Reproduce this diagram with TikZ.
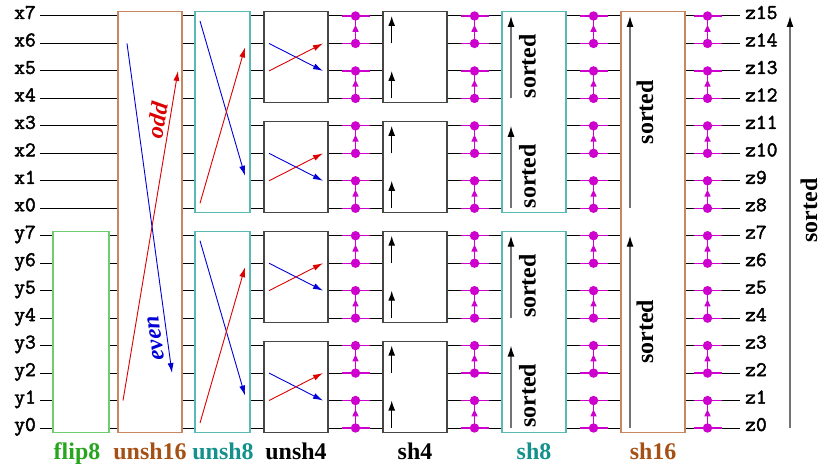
\documentclass[tikz,border=0pt]{standalone}
\usepackage{fontspec}
\setmainfont{Liberation Serif}
\newfontfamily\wirefont[FakeBold=2.2]{Latin Modern Mono}
\usetikzlibrary{arrows.meta,decorations.markings}
\definecolor{mag}{RGB}{205,0,205}
\definecolor{brownb}{RGB}{200,135,95}
\definecolor{brownt}{RGB}{165,80,20}
\definecolor{greenb}{RGB}{110,205,110}
\definecolor{greent}{RGB}{40,165,30}
\definecolor{tealb}{RGB}{90,185,180}
\definecolor{tealt}{RGB}{20,145,140}
\definecolor{redc}{RGB}{220,0,0}
\definecolor{bluec}{RGB}{0,0,215}
\definecolor{boxg}{RGB}{70,70,70}
\begin{document}
\begin{tikzpicture}[x=1bp,y=-1bp,
  declare function={wy(\i)=428-27.4667*\i;},
  wire/.style={line width=1bp,black},
  gbox/.style={draw,fill=white,line width=1.3bp},
  flow/.style={line width=0.9bp,-{Latex[length=10bp,width=6bp]}},
  sortarrow/.style={line width=1.3bp,black!55,-{Latex[length=11bp,width=7bp,color=black]}},
  shortarrow/.style={line width=1.3bp,black,-{Latex[length=10bp,width=7bp]}},
  lbl/.style={font=\fontsize{24}{24}\selectfont\bfseries,inner sep=0pt},
  wlbl/.style={font=\fontsize{21}{21}\selectfont\wirefont,inner sep=0pt,text height=0.6em,text depth=0pt},
  comp/.style={mag,line width=1.5bp,postaction={decorate},
    decoration={markings,mark=at position 0.68 with {\arrow{Triangle[length=7bp,width=6bp]}}}},
]
\useasboundingbox (0,0) rectangle (821,464);

% wires
\foreach \i in {0,...,15} {
  \coordinate (L\i) at (40,{wy(\i)});
  \coordinate (R\i) at (740,{wy(\i)});
  \draw[wire] (L\i) -- (R\i);
}
% wire labels
\foreach \i in {0,...,7} {
  \pgfmathtruncatemacro\j{\i+8}
  \node[wlbl,anchor=east] (ly\i) at ([xshift=-4bp]L\i) {y\i};
  \node[wlbl,anchor=east] (lx\i) at ([xshift=-4bp]L\j) {x\i};
}
\foreach \i in {0,...,15} {
  \node[wlbl,anchor=west] (lz\i) at ([xshift=5bp]R\i) {z\i};
}

% boxes
\draw[gbox,draw=greenb] (53,{wy(7)-4.4}) rectangle (109,{wy(0)+4.4});
\draw[gbox,draw=brownb] (118,{wy(15)-4.4}) rectangle (182,{wy(0)+4.4});
\foreach \t/\b in {15/8,7/0} {
  \draw[gbox,draw=tealb] (195,{wy(\t)-4.4}) rectangle (250,{wy(\b)+4.4});
  \draw[gbox,draw=tealb] (502,{wy(\t)-4.4}) rectangle (566,{wy(\b)+4.4});
}
\foreach \t/\b in {15/12,11/8,7/4,3/0} {
  \draw[gbox,draw=boxg] (264,{wy(\t)-4.4}) rectangle (328,{wy(\b)+4.4});
  \draw[gbox,draw=boxg] (383,{wy(\t)-4.4}) rectangle (447,{wy(\b)+4.4});
}
\draw[gbox,draw=brownb] (621,{wy(15)-4.4}) rectangle (685,{wy(0)+4.4});

% unsh16
\coordinate (a1) at (123,{wy(1)});  \coordinate (a2) at (178,{wy(13)});
\coordinate (b1) at (127,{wy(14)}); \coordinate (b2) at (172,{wy(2)});
\draw[flow,redc] (a1) -- (a2);
\draw[flow,bluec] (b1) -- (b2);
\node[lbl,font=\fontsize{24}{24}\selectfont\bfseries\itshape,text=redc,rotate=80.5] (odd) at (157.5,120) {odd};
\node[lbl,font=\fontsize{24}{24}\selectfont\bfseries\itshape,text=bluec,rotate=97.8] (even) at (155.7,338) {even};

% unsh8
\foreach \s in {0,8} {
  \pgfmathtruncatemacro\ta{\s+7}
  \pgfmathtruncatemacro\tb{\s+1}
  \pgfmathtruncatemacro\tc{\s}
  \pgfmathtruncatemacro\td{\s+6}
  \coordinate (u8b\s s) at (200,{wy(\ta)+5});
  \coordinate (u8b\s e) at (245,{wy(\tb)-5});
  \coordinate (u8r\s s) at (200,{wy(\tc)-5});
  \coordinate (u8r\s e) at (245,{wy(\td)+4});
  \draw[flow,bluec] (u8b\s s) -- (u8b\s e);
  \draw[flow,redc] (u8r\s s) -- (u8r\s e);
}

% unsh4
\foreach \t in {15,11,7,3} {
  \pgfmathtruncatemacro\p{\t-1}
  \pgfmathtruncatemacro\q{\t-2}
  \coordinate (u4p\t) at (269,{wy(\p)});
  \coordinate (u4q\t) at (269,{wy(\q)});
  \coordinate (u4P\t) at (323,{wy(\p)});
  \coordinate (u4Q\t) at (323,{wy(\q)});
  \draw[flow,bluec] (u4p\t) -- (u4Q\t);
  \draw[flow,redc] (u4q\t) -- (u4P\t);
}

% sh4 arrows
\foreach \k in {0,...,7} {
  \pgfmathtruncatemacro\lo{2*\k}
  \pgfmathtruncatemacro\hi{2*\k+1}
  \coordinate (s4l\k) at (391.7,{wy(\lo)});
  \coordinate (s4h\k) at (391.7,{wy(\hi)});
  \draw[shortarrow] (s4l\k) -- (s4h\k);
}

% sh8 arrows
\foreach \g in {0,...,3} {
  \pgfmathtruncatemacro\lo{4*\g}
  \pgfmathtruncatemacro\hi{4*\g+3}
  \coordinate (s8l\g) at (511,{wy(\lo)});
  \coordinate (s8h\g) at (511,{wy(\hi)});
  \draw[sortarrow] (s8l\g) -- (s8h\g);
  \node[lbl,rotate=90,anchor=west] (s8t\g) at (527.5,{wy(\lo)}) {sorted};
}

% sh16 arrows
\foreach \g in {0,1} {
  \pgfmathtruncatemacro\lo{8*\g}
  \pgfmathtruncatemacro\hi{8*\g+7}
  \coordinate (s16l\g) at (630,{wy(\lo)});
  \coordinate (s16h\g) at (630,{wy(\hi)});
  \draw[sortarrow] (s16l\g) -- (s16h\g);
  \node[lbl,rotate=90] (s16t\g) at (645,{(wy(\lo)+wy(\hi))/2}) {sorted};
}

% comparators
\foreach \cx in {355.5,474.5,593.5,707.5} {
  \foreach \k in {0,...,7} {
    \pgfmathtruncatemacro\lo{2*\k}
    \pgfmathtruncatemacro\hi{2*\k+1}
    \draw[mag,line width=1.2bp] (\cx-14,{wy(\lo)}) -- (\cx+14,{wy(\lo)});
    \draw[mag,line width=1.2bp] (\cx-14,{wy(\hi)}) -- (\cx+14,{wy(\hi)});
    \draw[comp] (\cx,{wy(\lo)}) -- (\cx,{wy(\hi)});
    \fill[mag] (\cx,{wy(\lo)}) circle (4.7bp);
    \fill[mag] (\cx,{wy(\hi)}) circle (4.7bp);
  }
}

% overall sorted arrow
\coordinate (bigl) at (790,{wy(0)});
\coordinate (bigh) at (790,{wy(15)});
\draw[sortarrow] (bigl) -- (bigh);
\node[lbl,rotate=90] (bigt) at (809,210.5) {sorted};

% bottom labels
\node[lbl,text=greent,anchor=base] (tflip8) at (77,459) {flip8};
\node[lbl,text=brownt,anchor=base] (tunsh16) at (150,459) {unsh16};
\node[lbl,text=tealt,anchor=base] (tunsh8) at (223,459) {unsh8};
\node[lbl,text=black,anchor=base] (tunsh4) at (296,459) {unsh4};
\node[lbl,text=black,anchor=base] (tsh4) at (415,459) {sh4};
\node[lbl,text=tealt,anchor=base] (tsh8) at (534,459) {sh8};
\node[lbl,text=brownt,anchor=base] (tsh16) at (653,459) {sh16};
\end{tikzpicture}
\end{document}
